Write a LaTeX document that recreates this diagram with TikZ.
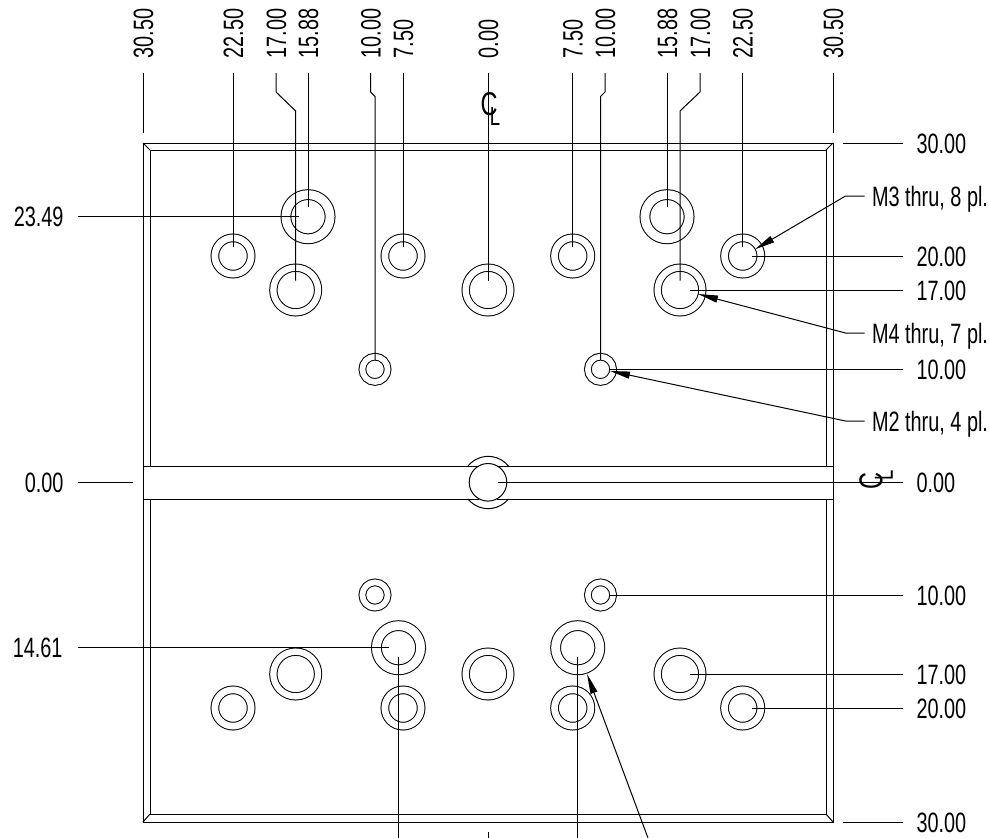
\documentclass[tikz,border=0pt]{standalone}
\usepackage{fontspec}
\setmainfont[FakeStretch=.71]{Liberation Sans}
\usetikzlibrary{arrows.meta,calc}

\begin{document}
\begin{tikzpicture}[x=1pt,y=-1pt,line width=1pt,
    dimtext/.style={font=\fontsize{28}{30}\selectfont,inner sep=0pt,text height=20pt,text depth=0pt},
    uplabel/.style={dimtext,rotate=90,anchor=west},
    rightlabel/.style={dimtext,anchor=west},
    leftlabel/.style={dimtext,anchor=east},
    holebase/.style={circle,draw,double,inner sep=0pt,outer sep=0pt},
    m2hole/.style={holebase,minimum size=25.3pt,double distance=5.7pt},
    m3hole/.style={holebase,minimum size=36.3pt,double distance=6.7pt},
    m4hole/.style={holebase,minimum size=44.7pt,double distance=6.3pt},
    bighole/.style={holebase,minimum size=44.2pt,double distance=8.8pt},
    leader/.style={-{Triangle[length=20pt,width=7pt]}}]
   \useasboundingbox (0,0) rectangle (989,838);

   % plate
   \draw (143,143) rectangle (833,822);
   \draw (150,466) |- (826,150) -- (826,466);
   \draw (150,499) |- (826,814) -- (826,499);
   \draw (143,143) -- (150,150) (833,143) -- (826,150) (143,822) -- (150,814) (833,822) -- (826,814);
   \draw (143,466) -- (478.5,466) (497,466) -- (833,466);
   \draw (143,499) -- (478.5,499) (497,499) -- (833,499);

   % centre hole
   \node[circle,draw,inner sep=0pt,minimum size=37.6pt] (hub) at (488,482.3) {};
   \draw (468,466) arc (219:321:26);
   \draw (468,499) arc (141:39:26);

   % holes, top half
   \node[bighole] (ua) at (308,216.7) {};
   \node[bighole] (ub) at (667,216.7) {};
   \node[m3hole] (uc) at (233,256) {};
   \node[m3hole] (ud) at (403,256) {};
   \node[m3hole] (ue) at (572.7,256) {};
   \node[m3hole] (uf) at (742.7,256) {};
   \node[m4hole] (ug) at (295.7,290) {};
   \node[m4hole] (uh) at (488,290) {};
   \node[m4hole] (ui) at (680,290) {};
   \node[m2hole] (uj) at (375,369.3) {};
   \node[m2hole] (uk) at (600.5,369.3) {};

   % holes, bottom half
   \node[m2hole] (la) at (375,595) {};
   \node[m2hole] (lb) at (600.5,595) {};
   \node[bighole] (lc) at (398.5,647.7) {};
   \node[bighole] (ld) at (577.7,647.7) {};
   \node[m4hole] (le) at (295.7,674) {};
   \node[m4hole] (lf) at (488,674) {};
   \node[m4hole] (lg) at (680,674) {};
   \node[m3hole] (lh) at (233,708) {};
   \node[m3hole] (li) at (403,708) {};
   \node[m3hole] (lj) at (572.7,708) {};
   \node[m3hole] (lk) at (742.7,708) {};

   % labels along the top
   \node[uplabel] (t305l) at (143,59) {30.50};
   \node[uplabel] (t225l) at (233,59) {22.50};
   \node[uplabel] (t170l) at (276,59) {17.00};
   \node[uplabel] (t159l) at (308,59) {15.88};
   \node[uplabel] (t100l) at (370.6,59) {10.00};
   \node[uplabel] (t75l) at (403,59) {7.50};
   \node[uplabel] (t0) at (488,59) {0.00};
   \node[uplabel] (t75r) at (572.7,59) {7.50};
   \node[uplabel] (t100r) at (605,59) {10.00};
   \node[uplabel] (t159r) at (667,59) {15.88};
   \node[uplabel] (t170r) at (700,59) {17.00};
   \node[uplabel] (t225r) at (742.7,59) {22.50};
   \node[uplabel] (t305r) at (833,59) {30.50};

   % labels at the sides
   \node[leftlabel] (l235) at (64,216.7) {23.49};
   \node[leftlabel] (l0) at (64,482.3) {0.00};
   \node[leftlabel] (l146) at (63,647.7) {14.61};
   \node[rightlabel] (r30u) at (916,143) {30.00};
   \node[rightlabel] (rm3) at (871.5,196) {M3 thru, 8 pl.};
   \node[rightlabel] (r20u) at (916,256) {20.00};
   \node[rightlabel] (r17u) at (916,290) {17.00};
   \node[rightlabel] (rm4) at (871.5,333) {M4 thru, 7 pl.};
   \node[rightlabel] (r10u) at (916,369.3) {10.00};
   \node[rightlabel] (rm2) at (871.5,421) {M2 thru, 4 pl.};
   \node[rightlabel] (r0) at (916,482.3) {0.00};
   \node[rightlabel] (r10l) at (916,595) {10.00};
   \node[rightlabel] (r17l) at (916,674) {17.00};
   \node[rightlabel] (r20l) at (916,708) {20.00};
   \node[rightlabel] (r30l) at (916,822) {30.00};

   % centre line marks
   \node[font=\fontsize{33}{33}\selectfont,inner sep=0pt] (cltop) at (489,104) {C};
   \node[font=\fontsize{26}{26}\selectfont,inner sep=0pt] (lltop) at (495,117) {L};
   \node[font=\fontsize{33}{33}\selectfont,inner sep=0pt,rotate=90] (clright) at (871,481) {C};
   \node[font=\fontsize{26}{26}\selectfont,inner sep=0pt,rotate=90] (llright) at (884,475) {L};

   % dimension lines from the top
   \draw ([yshift=-14pt]t305l.west) -- ++(0,60);
   \draw ([yshift=-14pt]t225l.west) -- ([yshift=9.5pt]uc.center);
   \draw ([yshift=-14pt]t170l.west) -- ++(0,19) -- ++(19.7,19) -- ([yshift=9.5pt]ug.center);
   \draw ([yshift=-14pt]t159l.west) -- ([yshift=9.5pt]ua.center);
   \draw ([yshift=-14pt]t100l.west) -- ++(0,19) -- ++(4.4,4.4) -- ([yshift=9.5pt]uj.center);
   \draw ([yshift=-14pt]t75l.west) -- ([yshift=9.5pt]ud.center);
   \draw ([yshift=-14pt]t0.west) -- ([yshift=9.5pt]uh.center);
   \draw ([yshift=-14pt]t75r.west) -- ([yshift=9.5pt]ue.center);
   \draw ([yshift=-14pt]t100r.west) -- ++(0,19) -- ++(-4.5,4.5) -- ([yshift=9.5pt]uk.center);
   \draw ([yshift=-14pt]t159r.west) -- ([yshift=9.5pt]ub.center);
   \draw ([yshift=-14pt]t170r.west) -- ++(0,19) -- ++(-20,19) -- ([yshift=9.5pt]ui.center);
   \draw ([yshift=-14pt]t225r.west) -- ([yshift=9.5pt]uf.center);
   \draw ([yshift=-14pt]t305r.west) -- ++(0,60);

   % dimension lines from the sides
   \draw ([xshift=14pt]l235.east) -- ([xshift=-9.5pt]ua.center);
   \draw ([xshift=14pt]l0.east) -- ++(55,0);
   \draw ([xshift=15pt]l146.east) -- ([xshift=-9.5pt]lc.center);
   \draw ([xshift=-13pt]r30u.west) -- ++(-60,0);
   \draw ([xshift=-13pt]r20u.west) -- ([xshift=9.5pt]uf.center);
   \draw ([xshift=-13pt]r17u.west) -- ([xshift=9.5pt]ui.center);
   \draw ([xshift=-13pt]r10u.west) -- ([xshift=9.5pt]uk.center);
   \draw ([xshift=-13pt]r0.west) -- ([xshift=9.5pt]hub.center);
   \draw ([xshift=-13pt]r10l.west) -- ([xshift=9.5pt]lb.center);
   \draw ([xshift=-13pt]r17l.west) -- ([xshift=9.5pt]lg.center);
   \draw ([xshift=-13pt]r20l.west) -- ([xshift=9.5pt]lk.center);
   \draw ([xshift=-13pt]r30l.west) -- ++(-60,0);

   % dimension lines leaving at the bottom
   \coordinate (bl) at (398.5,838);
   \coordinate (bc) at (488,832);
   \coordinate (br) at (577.7,838);
   \coordinate (bn) at (648,838);
   \draw ([yshift=-9.5pt]lc.center) -- (bl);
   \draw (bc) -- ++(0,6);
   \draw ([yshift=-9.5pt]ld.center) -- (br);

   % notes
   \draw[leader] ([xshift=-7pt]rm3.west) -- ++(-19,0) -- ([shift={(12.3pt,6.7pt)}]uf.center);
   \draw[leader] ([xshift=-7pt]rm4.west) -- ++(-19,0) -- ([shift={(18pt,-4pt)}]ui.center);
   \draw[leader] ([xshift=-7pt]rm2.west) -- ++(-19,0) -- ([shift={(9.5pt,-1.7pt)}]uk.center);
   \draw[leader] (bn) -- ([shift={(9.3pt,-26.3pt)}]ld.center);
\end{tikzpicture}
\end{document}
